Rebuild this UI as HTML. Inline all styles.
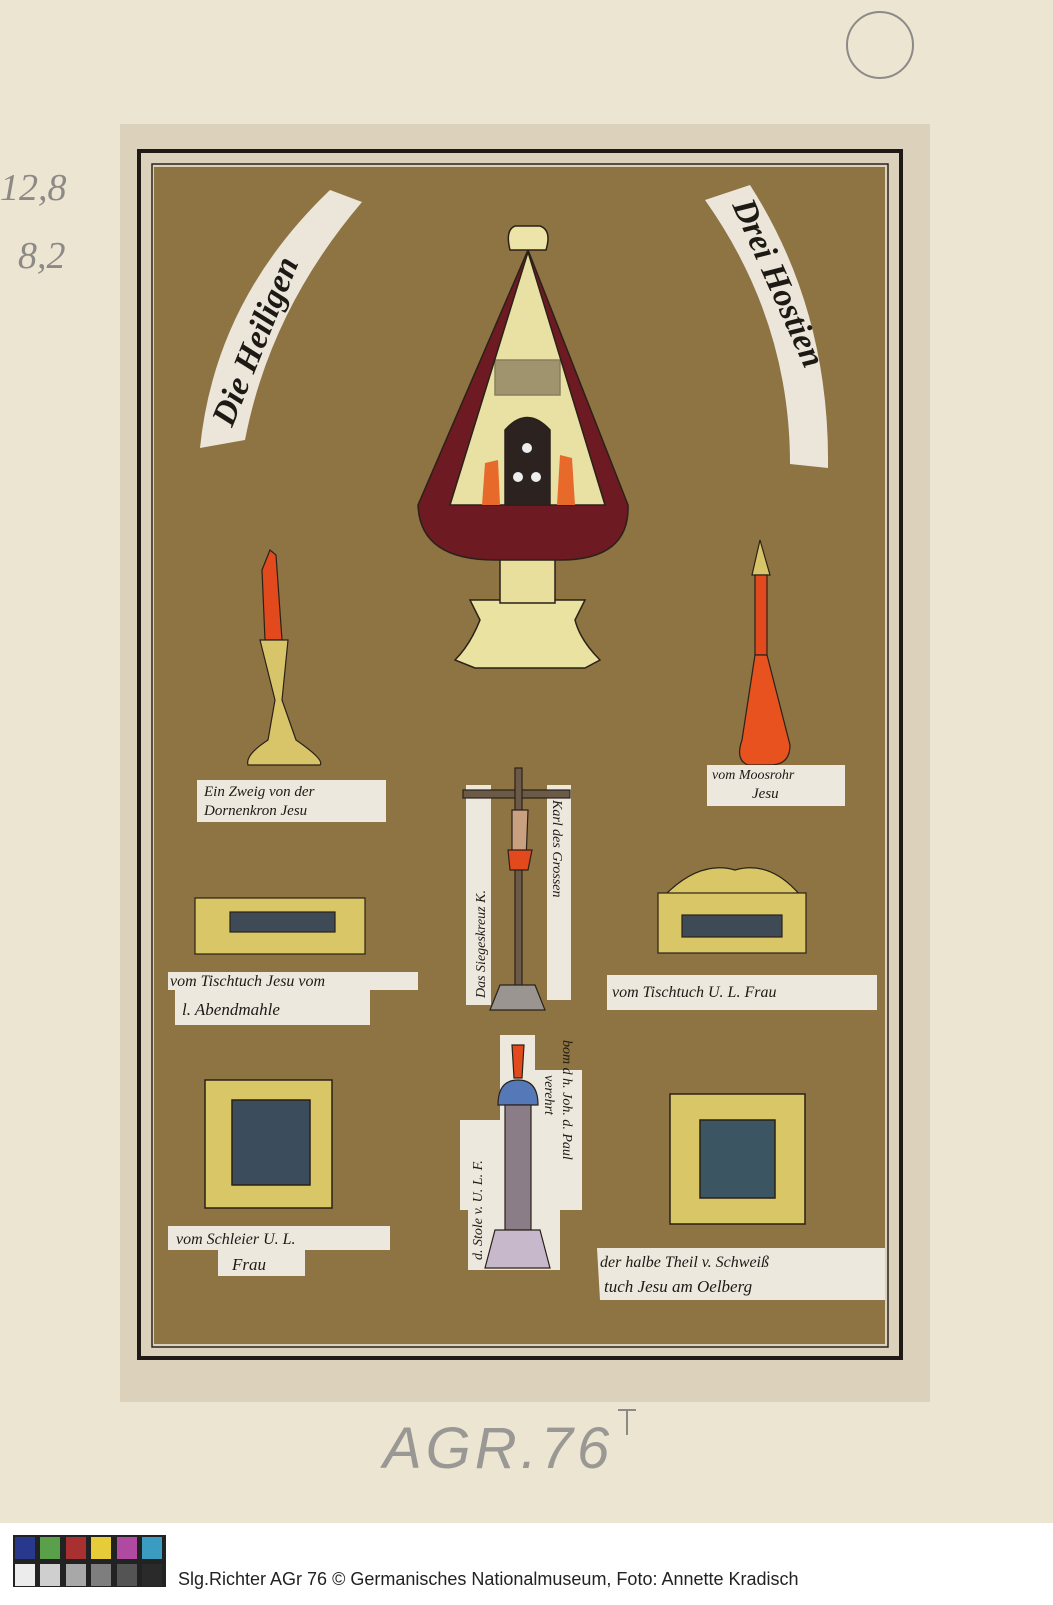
<!DOCTYPE html>
<html><head><meta charset="utf-8"><style>
html,body{margin:0;padding:0}
body{width:1053px;height:1600px;overflow:hidden;background:#fff;font-family:"Liberation Sans",sans-serif}
</style></head><body>
<svg width="1053" height="1600" viewBox="0 0 1053 1600" xmlns="http://www.w3.org/2000/svg">
<rect x="0" y="0" width="1053" height="1523" fill="#ece5d2"/>
<rect x="0" y="1523" width="1053" height="77" fill="#ffffff"/>
<!-- pencil marks -->
<g fill="none" stroke="#8c8a86" stroke-width="2">
<text x="0" y="200" font-family="Liberation Serif" font-size="38" fill="#8c8a86" stroke="none" font-style="italic">12,8</text>
<text x="18" y="268" font-family="Liberation Serif" font-size="38" fill="#8c8a86" stroke="none" font-style="italic">8,2</text>
<circle cx="880" cy="45" r="33"/>
<text x="383" y="1468" font-family="Liberation Sans" font-size="58" fill="#9a9894" stroke="none" font-style="italic" letter-spacing="4">AGR.76</text>
<path d="M618 1410 l18 0 M627 1410 l0 25"/>
</g>
<!-- card -->
<rect x="120" y="124" width="810" height="1278" fill="#dcd2bb"/>
<rect x="139" y="151" width="762" height="1207" fill="none" stroke="#1f1a16" stroke-width="4"/>
<rect x="152" y="164" width="736" height="1183" fill="none" stroke="#2a241c" stroke-width="1.5"/>
<rect x="154" y="167" width="731" height="1177" fill="#8e7343"/>
<!-- banners -->
<path d="M200 448 Q215 300 330 190 L362 202 Q270 310 245 440 Z" fill="#ece6da"/>
<text transform="translate(232,428) rotate(-68)" font-family="Liberation Serif" font-size="34" font-style="italic" font-weight="bold" fill="#1d1915">Die Heiligen</text>
<path d="M705 200 L750 185 Q830 310 828 468 L790 464 Q790 320 705 200 Z" fill="#ece6da"/>
<text transform="translate(732,205) rotate(66)" font-family="Liberation Serif" font-size="34" font-style="italic" font-weight="bold" fill="#1d1915">Drei Hostien</text>
<!-- monstrance -->
<g stroke="#2a2118" stroke-width="1.5">
<path d="M470 600 L480 620 Q470 645 455 660 L475 668 L585 668 L600 660 Q580 640 575 620 L585 600 Z" fill="#eae2a0"/>
<rect x="500" y="555" width="55" height="48" fill="#e8df9c"/>
<path d="M528 250 L418 505 Q420 560 495 560 L560 560 Q630 560 628 505 Z" fill="#6e1a22"/>
<path d="M528 252 L450 505 L605 505 Z" fill="#e9e0a4"/>
<path d="M495 360 L560 360 L560 395 L495 395 Z" fill="#5a4b3a" opacity="0.5"/>
<path d="M505 430 Q527 405 550 430 L550 505 L505 505 Z" fill="#2c2220"/>
<circle cx="527" cy="448" r="5" fill="#eee" stroke="none"/>
<circle cx="518" cy="477" r="5" fill="#eee" stroke="none"/>
<circle cx="536" cy="477" r="5" fill="#eee" stroke="none"/>
<path d="M485 463 L498 460 L500 505 L482 505 Z" fill="#e86a2a" stroke="none"/>
<path d="M560 455 L572 458 L575 505 L557 505 Z" fill="#e86a2a" stroke="none"/>
<path d="M510 250 Q505 230 515 226 L540 226 Q552 230 546 250 Z" fill="#ece4a8"/>
</g>
<!-- left candle -->
<g stroke="#2a2118" stroke-width="1.2">
<path d="M262 570 L270 550 L276 555 L282 640 L265 640 Z" fill="#e24a1e"/>
<path d="M260 640 L288 640 L282 700 L296 740 Q325 760 320 765 L248 765 Q245 755 268 740 L275 700 Z" fill="#d8c56a"/>
</g>
<rect x="197" y="780" width="189" height="42" fill="#ede8de"/>
<text x="204" y="796" font-family="Liberation Serif" font-size="15" font-style="italic" fill="#1d1915">Ein Zweig von der</text>
<text x="204" y="815" font-family="Liberation Serif" font-size="15" font-style="italic" fill="#1d1915">Dornenkron Jesu</text>
<!-- right bottle -->
<g stroke="#2a2118" stroke-width="1.2">
<path d="M760 540 L752 575 L770 575 Z" fill="#d8c56a"/>
<rect x="755" y="575" width="12" height="80" fill="#e24a1e"/>
<path d="M755 655 L767 655 L790 745 Q790 765 770 765 L748 765 Q735 760 742 740 Z" fill="#e8521e"/>
</g>
<rect x="707" y="765" width="138" height="41" fill="#ede8de"/>
<text x="712" y="779" font-family="Liberation Serif" font-size="14" font-style="italic" fill="#1d1915">vom Moosrohr</text>
<text x="752" y="798" font-family="Liberation Serif" font-size="15" font-style="italic" fill="#1d1915">Jesu</text>
<!-- crucifix -->
<rect x="466" y="785" width="25" height="220" fill="#ede8de"/>
<rect x="547" y="785" width="24" height="215" fill="#ede8de"/>
<g stroke="#2a2118" stroke-width="1.2">
<rect x="463" y="790" width="107" height="8" fill="#6b5a48"/>
<rect x="515" y="768" width="7" height="220" fill="#6b5a48"/>
<path d="M512 810 L528 810 L526 860 L512 860 Z" fill="#c9a080"/>
<path d="M508 850 L532 850 L528 870 L510 870 Z" fill="#e24a1e"/>
<path d="M490 1010 L545 1010 L535 985 L500 985 Z" fill="#9a9590"/>
</g>
<text transform="translate(485,998) rotate(-90)" font-family="Liberation Serif" font-size="14" font-style="italic" fill="#1d1915">Das Siegeskreuz K.</text>
<text transform="translate(553,800) rotate(90)" font-family="Liberation Serif" font-size="14" font-style="italic" fill="#1d1915">Karl des Grossen</text>
<!-- left box -->
<g stroke="#2a2118" stroke-width="1.2">
<rect x="195" y="898" width="170" height="56" fill="#d9c767"/>
<rect x="230" y="912" width="105" height="20" fill="#3e4a55"/>
</g>
<path d="M168 972 L418 972 L418 990 L370 990 L370 1025 L175 1025 L175 990 L168 990 Z" fill="#ede8de"/>
<text x="170" y="986" font-family="Liberation Serif" font-size="16" font-style="italic" fill="#1d1915">vom Tischtuch Jesu vom</text>
<text x="182" y="1015" font-family="Liberation Serif" font-size="17" font-style="italic" fill="#1d1915">l. Abendmahle</text>
<!-- right box -->
<g stroke="#2a2118" stroke-width="1.2">
<path d="M665 895 Q700 860 735 870 Q770 860 800 895 Z" fill="#d9c767"/>
<rect x="658" y="893" width="148" height="60" fill="#d9c767"/>
<rect x="682" y="915" width="100" height="22" fill="#3e4a55"/>
</g>
<rect x="607" y="975" width="270" height="35" fill="#ede8de"/>
<text x="612" y="997" font-family="Liberation Serif" font-size="16" font-style="italic" fill="#1d1915">vom Tischtuch U. L. Frau</text>
<!-- bottom left square -->
<g stroke="#2a2118" stroke-width="1.5">
<rect x="205" y="1080" width="127" height="128" fill="#d9c767"/>
<rect x="232" y="1100" width="78" height="85" fill="#3b4c5c"/>
</g>
<path d="M168 1226 L390 1226 L390 1250 L305 1250 L305 1276 L218 1276 L218 1250 L168 1250 Z" fill="#ede8de"/>
<text x="176" y="1244" font-family="Liberation Serif" font-size="16" font-style="italic" fill="#1d1915">vom Schleier U. L.</text>
<text x="232" y="1270" font-family="Liberation Serif" font-size="17" font-style="italic" fill="#1d1915">Frau</text>
<!-- column -->
<path d="M500 1035 L535 1035 L535 1070 L582 1070 L582 1210 L560 1210 L560 1270 L468 1270 L468 1210 L460 1210 L460 1120 L500 1120 Z" fill="#ede8de"/>
<g stroke="#2a2118" stroke-width="1.2">
<path d="M498 1105 Q498 1080 518 1080 Q538 1080 538 1105 Z" fill="#5578b8"/>
<path d="M512 1045 L524 1045 L522 1078 L514 1078 Z" fill="#e24a1e"/>
<rect x="505" y="1105" width="26" height="125" fill="#8a7d88"/>
<path d="M485 1268 L550 1268 L540 1230 L495 1230 Z" fill="#c8b8cc"/>
</g>
<text transform="translate(482,1260) rotate(-90)" font-family="Liberation Serif" font-size="14" font-style="italic" fill="#1d1915">d. Stole v. U. L. F.</text>
<text transform="translate(545,1075) rotate(90)" font-family="Liberation Serif" font-size="14" font-style="italic" fill="#1d1915">verehrt</text>
<text transform="translate(563,1040) rotate(90)" font-family="Liberation Serif" font-size="14" font-style="italic" fill="#1d1915">bom d h. Joh. d. Paul</text>
<!-- bottom right square -->
<g stroke="#2a2118" stroke-width="1.5">
<rect x="670" y="1094" width="135" height="130" fill="#d9c767"/>
<rect x="700" y="1120" width="75" height="78" fill="#3b5562"/>
</g>
<path d="M597 1248 L885 1248 L885 1300 L600 1300 Z" fill="#ede8de"/>
<text x="600" y="1267" font-family="Liberation Serif" font-size="16" font-style="italic" fill="#1d1915">der halbe Theil v. Schweiß</text>
<text x="604" y="1292" font-family="Liberation Serif" font-size="17" font-style="italic" fill="#1d1915">tuch Jesu am Oelberg</text>
<!-- color chart -->
<rect x="13" y="1535" width="153" height="52" fill="#222"/>
<g>
<rect x="15" y="1537" width="20" height="22" fill="#28388c"/>
<rect x="40" y="1537" width="20" height="22" fill="#5aa04a"/>
<rect x="66" y="1537" width="20" height="22" fill="#a83030"/>
<rect x="91" y="1537" width="20" height="22" fill="#e6cc38"/>
<rect x="117" y="1537" width="20" height="22" fill="#b04aa0"/>
<rect x="142" y="1537" width="20" height="22" fill="#3a9cc0"/>
<rect x="15" y="1564" width="20" height="22" fill="#ececec"/>
<rect x="40" y="1564" width="20" height="22" fill="#cfcfcf"/>
<rect x="66" y="1564" width="20" height="22" fill="#a8a8a8"/>
<rect x="91" y="1564" width="20" height="22" fill="#7e7e7e"/>
<rect x="117" y="1564" width="20" height="22" fill="#545454"/>
<rect x="142" y="1564" width="20" height="22" fill="#2a2a2a"/>
</g>
<text x="178" y="1585" font-family="Liberation Sans" font-size="18" fill="#222">Slg.Richter AGr 76 © Germanisches Nationalmuseum, Foto: Annette Kradisch</text>
</svg>
</body></html>
